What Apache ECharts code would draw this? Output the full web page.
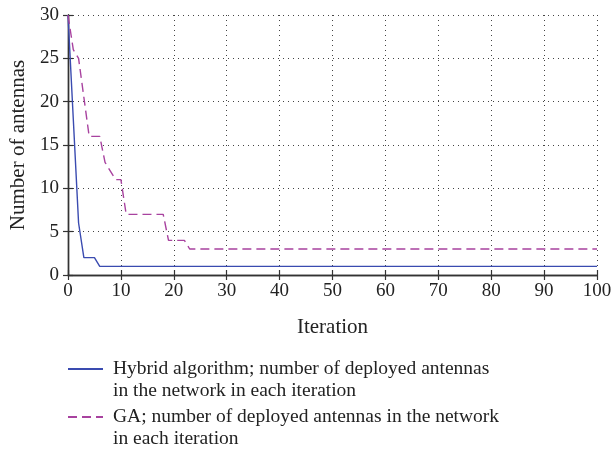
<!DOCTYPE html>
<html>
<head>
<meta charset="utf-8">
<script src="https://cdn.jsdelivr.net/npm/echarts@6/dist/echarts.min.js"></script>
<style>
    html, body { margin: 0; padding: 0; background: #fff; }
    #main { width: 612px; height: 451px; }
</style>
</head>
<body>
<div id="main"></div>
<script>
    // breakpoints (iteration, number of antennas)
    var hybridIter = [0, 1, 2, 3, 5, 6, 100];
    var hybridAnt  = [30, 18, 6, 2, 2, 1, 1];
    var gaIter = [0, 1, 2, 4, 6, 7, 9, 10, 11, 18, 19, 22, 23, 100];
    var gaAnt  = [30, 26, 25, 16, 16, 13, 11, 11, 7, 7, 4, 4, 3, 3];
    // leading blank line keeps the first text line level with the legend line
    var seriesNames = [
        '\nHybrid algorithm; number of deployed antennas\nin the network in each iteration',
        '\nGA; number of deployed antennas in the network\nin each iteration'
    ];

    function pairs(xs, ys) {
        return xs.map(function (x, i) { return [x, ys[i]]; });
    }

    var font = '"Liberation Serif", "DejaVu Serif", serif';
    var chart = echarts.init(document.getElementById('main'));

    var gridLine = { show: true, lineStyle: { color: '#444', type: [1, 4], width: 1 } };
    var frame = { show: true, lineStyle: { color: '#333', width: 1.4 } };
    var tick = { show: true, inside: true, length: 5, lineStyle: { color: '#333', width: 1.2 } };

    var option = {
        animation: false,
        textStyle: { fontFamily: font },
        grid: { left: 68, right: 15, top: 15, bottom: 176, outerBoundsMode: 'none' },
        legend: {
            orient: 'vertical',
            left: 67,
            top: 336,
            height: 115,
            padding: 0,
            itemWidth: 35,
            itemHeight: 10,
            itemGap: -18,
            itemStyle: { opacity: 0 },
            data: seriesNames,
            textStyle: {
                fontFamily: font, fontSize: 19.5, lineHeight: 22, color: '#222',
                padding: [0, 0, 0, 5]
            }
        },
        xAxis: [{
            type: 'value', min: 0, max: 100, interval: 10,
            name: 'Iteration', nameLocation: 'middle', nameGap: 42,
            nameTextStyle: { fontFamily: font, fontSize: 21, color: '#222' },
            axisLine: frame,
            axisTick: tick,
            axisLabel: { fontFamily: font, fontSize: 19, color: '#222', margin: 7 },
            splitLine: gridLine
        }, {
            type: 'value', min: 0, max: 100, interval: 10, position: 'top',
            axisLine: frame,
            axisTick: tick,
            axisLabel: { show: false },
            splitLine: { show: false }
        }],
        yAxis: [{
            type: 'value', min: 0, max: 30, interval: 5,
            name: 'Number of antennas', nameLocation: 'middle', nameGap: 39,
            nameTextStyle: { fontFamily: font, fontSize: 21, color: '#222' },
            axisLine: frame,
            axisTick: tick,
            axisLabel: { fontFamily: font, fontSize: 19, color: '#222', margin: 9 },
            splitLine: gridLine
        }, {
            type: 'value', min: 0, max: 30, interval: 5, position: 'right',
            axisLine: frame,
            axisTick: tick,
            axisLabel: { show: false },
            splitLine: { show: false }
        }],
        series: [
            {
                name: seriesNames[0],
                type: 'line',
                symbol: 'none',
                color: '#3a4bb0',
                lineStyle: { color: '#3a4bb0', width: 1.4 },
                data: pairs(hybridIter, hybridAnt)
            },
            {
                name: seriesNames[1],
                type: 'line',
                symbol: 'none',
                color: '#a8429f',
                lineStyle: { color: '#a8429f', width: 1.4, type: [9, 5] },
                data: pairs(gaIter, gaAnt)
            }
        ]
    };

    chart.setOption(option);
</script>
</body>
</html>
